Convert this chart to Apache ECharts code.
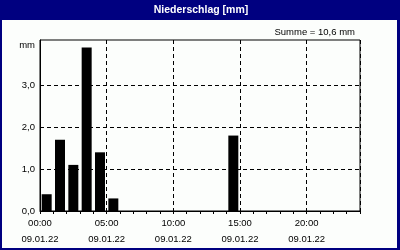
<!DOCTYPE html>
<html><head><meta charset="utf-8">
<script src="https://cdn.jsdelivr.net/npm/echarts@6/dist/echarts.min.js"></script>
<style>html,body{margin:0;padding:0;background:#fcfefc}#c{width:400px;height:250px}</style>
</head><body><div id="c"></div>
<script>
var title = 'Niederschlag [mm]';
var sumLabel = 'Summe = 10,6 mm';
var unitLabel = 'mm';
var dateLabel = '09.01.22';
var hours = [0,1,2,3,4,5,6,7,8,9,10,11,12,13,14,15,16,17,18,19,20,21,22,23];
var precip = [0.4,1.7,1.1,3.9,1.4,0.3,0,0,0,0,0,0,0,0,1.8,0,0,0,0,0,0,0,0,0];
var yGrid = [1,2,3];
var xTicks = [0,5,10,15,20];

var font = 'Liberation Sans';
var chart = echarts.init(document.getElementById('c'), null, {renderer:'canvas'});
var barData = [];
hours.forEach(function(h,i){ if (precip[i] > 0) barData.push([h + 0.5, precip[i]]); });
function pad(n){return (n<10?'0':'')+n;}
chart.setOption({
  animation:false,
  backgroundColor:'#fcfefc',
  grid:{left:40,right:40,top:40,bottom:39,show:true,borderColor:'#000',borderWidth:1,backgroundColor:'transparent'},
  graphic:[
    {type:'rect',shape:{x:0,y:0,width:400,height:20},style:{fill:'#000080'},z:10},
    {type:'rect',shape:{x:0,y:0,width:2,height:250},style:{fill:'#000080'},z:10},
    {type:'rect',shape:{x:397,y:0,width:3,height:250},style:{fill:'#000080'},z:10},
    {type:'rect',shape:{x:0,y:248,width:400,height:2},style:{fill:'#000080'},z:10},
    {type:'text',x:201,y:10,style:{text:title,fill:'#fff',font:'bold 10.5px "'+font+'"',textAlign:'center',textVerticalAlign:'middle'},z:11},
    {type:'text',x:355,y:32,style:{text:sumLabel,fill:'#000',font:'9.5px "'+font+'"',textAlign:'right',textVerticalAlign:'middle'},z:11}
  ],
  xAxis:[{
    type:'value',min:0,max:24,interval:5,position:'bottom',
    axisLine:{show:true,lineStyle:{color:'#000',width:1}},
    axisTick:{show:false},
    splitLine:{show:true,lineStyle:{color:'#000',type:[4,3],width:1}},
    axisLabel:{show:true,showMaxLabel:false,margin:4,color:'#000',fontFamily:font,fontSize:9.5,lineHeight:16,
      formatter:function(v){ if (xTicks.indexOf(v)<0) return ''; return pad(v)+':00\n'+dateLabel; }}
  },{
    type:'value',min:0,max:24,interval:1,position:'bottom',
    axisLine:{show:false},
    axisTick:{show:true,inside:false,length:3,lineStyle:{color:'#000',width:1}},
    splitLine:{show:false},
    axisLabel:{show:false}
  }],
  yAxis:{
    type:'value',min:0,max:4.08,interval:1,
    axisLine:{show:true,lineStyle:{color:'#000'}},
    axisTick:{show:false},
    splitLine:{show:false},
    axisLabel:{color:'#000',fontFamily:font,fontSize:9.5,margin:5,showMaxLabel:false,
      formatter:function(v){ if (v===4) return '{u|'+unitLabel+'}'; if (v>4) return ''; return v.toFixed(1).replace('.',','); },
      rich:{u:{fontFamily:font,fontSize:9.5,color:'#000',padding:[4,0,0,0]}}}
  },
  series:[{
    type:'bar',xAxisIndex:0,data:barData,barWidth:10,itemStyle:{color:'#000'},
    markLine:{silent:true,symbol:'none',label:{show:false},
      lineStyle:{color:'#000',type:[4,3],width:1},
      data:yGrid.map(function(g){return {yAxis:g};})}
  }]
});
</script></body></html>
